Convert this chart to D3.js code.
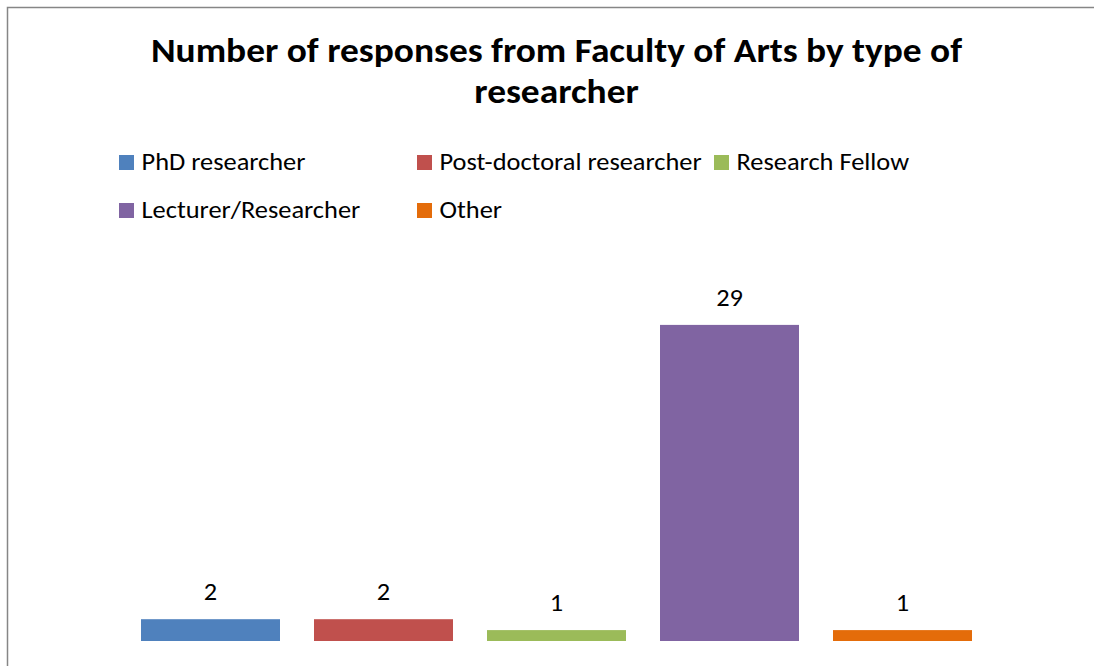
<!DOCTYPE html>
<html>
<head>
<meta charset="utf-8">
<script src="https://cdn.jsdelivr.net/npm/d3@7"></script>
<style>
  html, body { margin: 0; padding: 0; background: #fff; }
  svg { display: block; }
  text { font-family: Calibri, Carlito, Lato, sans-serif; fill: #000; }
</style>
</head>
<body>
<div id="chart"></div>
<script>
const categories = ["PhD researcher", "Post-doctoral researcher", "Research Fellow", "Lecturer/Researcher", "Other"];
const values = [2, 2, 1, 29, 1];
const colors = ["#4F81BD", "#C0504D", "#9BBB59", "#8064A2", "#E46C0A"];
const titleLines = ["Number of responses from Faculty of Arts by type of", "researcher"];

const W = 1094, H = 666;
const SX = 1.1; // horizontal stretch of the reference text
const svg = d3.select("#chart").append("svg").attr("width", W).attr("height", H);

// frame
svg.append("path")
  .attr("d", `M7.5,${H} L7.5,7.5 L${W},7.5`)
  .attr("fill", "none").attr("stroke", "#868686").attr("stroke-width", 1.5);

// title
svg.append("g").selectAll("text").data(titleLines).join("text")
  .attr("transform", (d, i) => `translate(556.5,${62 + i * 41}) scale(${SX},1)`)
  .attr("text-anchor", "middle")
  .style("font-weight", "bold").style("font-size", "34px")
  .text(d => d);

// legend
const legendPos = [[119, 170], [417, 170], [714, 170], [119, 218], [417, 218]];
const lg = svg.append("g").selectAll("g").data(categories).join("g")
  .attr("transform", (d, i) => `translate(${legendPos[i][0]},${legendPos[i][1]})`);
lg.append("rect").attr("x", 0).attr("y", -15).attr("width", 15).attr("height", 15)
  .attr("fill", (d, i) => colors[i]);
lg.append("text").attr("transform", `translate(22.5,0) scale(${SX},1)`)
  .style("font-size", "24px").text(d => d);

// scales
const x = d3.scaleBand().domain(categories).range([124, 989]).paddingInner(34 / 173).paddingOuter(17 / 173);
const y = d3.scaleLinear().domain([0, 30]).range([641, 314]);

svg.append("g").selectAll("rect").data(categories).join("rect")
  .attr("x", d => x(d)).attr("width", x.bandwidth())
  .attr("y", (d, i) => y(values[i])).attr("height", (d, i) => y(0) - y(values[i]))
  .attr("fill", (d, i) => colors[i]);

svg.append("g").selectAll("text").data(categories).join("text")
  .attr("transform", (d, i) => `translate(${x(d) + x.bandwidth() / 2},${y(values[i]) - 19}) scale(${SX},1)`)
  .attr("text-anchor", "middle").style("font-size", "24px")
  .text((d, i) => values[i]);
</script>
</body>
</html>
